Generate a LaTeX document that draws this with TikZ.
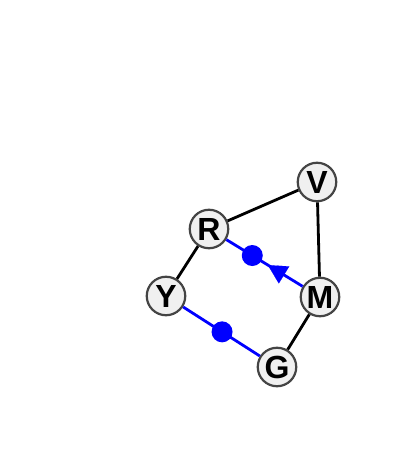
\documentclass[tikz,border=0pt]{standalone}
\usepackage{fontspec}
\setmainfont{Liberation Sans}
\usetikzlibrary{calc,arrows.meta}
\definecolor{nodefill}{HTML}{F0F0F0}
\definecolor{nodeline}{HTML}{444444}
\tikzset{
  vtx/.style={circle, draw=nodeline, line width=2.2pt, fill=nodefill, minimum size=38.5pt, inner sep=0pt, font=\fontsize{32}{32}\selectfont\bfseries},
  blk/.style={draw=black, line width=2.8pt},
  blu/.style={draw=blue, line width=2.8pt},
  dotm/.style={circle, fill=blue, inner sep=0pt, minimum size=21pt}
}
\begin{document}
\begin{tikzpicture}[x=1pt,y=1pt]
\useasboundingbox (0,0) rectangle (400,463);
\node[vtx] (V) at (317,281) {V};
\node[vtx] (R) at (209,234) {R};
\node[vtx] (Y) at (166,167) {Y};
\node[vtx] (M) at (320,166) {M};
\node[vtx] (G) at (277,96) {G};
\draw[blk] (R) -- (V);
\draw[blk] (V) -- (M);
\draw[blk] (R) -- (Y);
\draw[blk] (M) -- (G);
\draw[blu] (R) -- (M);
\draw[blu] (Y) -- (G);
\node[dotm] (d1) at ($(R)!0.39!(M)$) {};
\node[dotm] (d2) at ($(Y)!0.505!(G)$) {};
\coordinate (a1) at ($(R)!0.69!(M)$);
\coordinate (a2) at ($(R)!0.53!(M)$);
\draw[blue, line width=0.1pt, -{Triangle[length=19pt,width=20pt]}] (a1) -- (a2);
\end{tikzpicture}
\end{document}
